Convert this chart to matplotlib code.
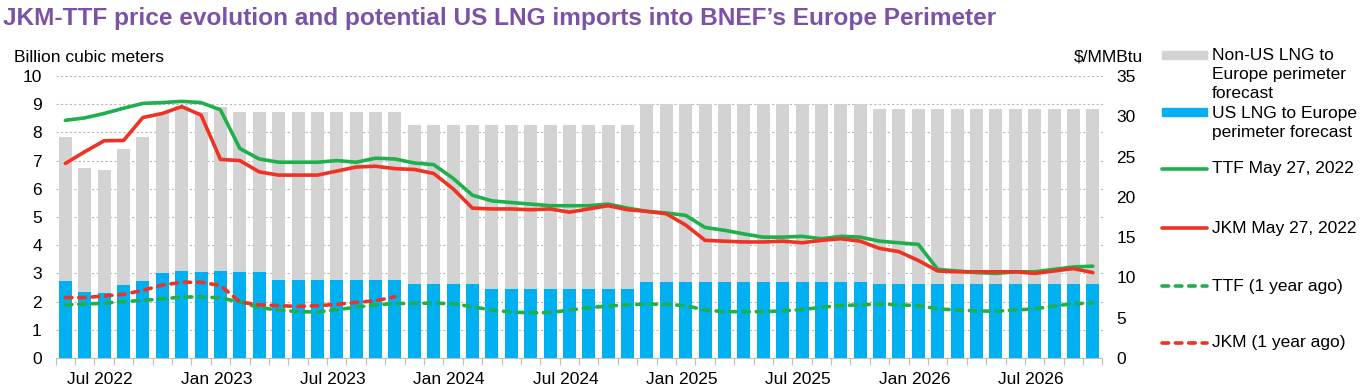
import matplotlib
matplotlib.use("Agg")
import matplotlib.pyplot as plt
from matplotlib.lines import Line2D
from matplotlib.patches import Rectangle
import numpy as np
import pandas as pd

# ---------------- data ----------------
months = pd.date_range("2022-05-01", periods=54, freq="MS")

us_lng = [2.73, 2.34, 2.30, 2.59, 2.73, 3.01, 3.08, 3.05, 3.08, 3.05, 3.05,
          2.77, 2.77, 2.77, 2.77, 2.77, 2.77, 2.77,
          2.62, 2.62, 2.62, 2.62,
          2.45, 2.45, 2.45, 2.45, 2.45, 2.45, 2.45, 2.45,
          2.70, 2.70, 2.70, 2.70, 2.70, 2.70, 2.70, 2.70, 2.70, 2.70, 2.70, 2.70,
          2.62, 2.62, 2.62, 2.62, 2.62, 2.62, 2.62, 2.62, 2.62, 2.62, 2.62, 2.62]

non_us_lng = [5.09, 4.41, 4.38, 4.82, 5.12, 5.69, 5.85, 5.67, 5.81, 5.67, 5.67,
              5.95, 5.95, 5.95, 5.95, 5.95, 5.95, 5.95,
              5.64, 5.64, 5.64, 5.64,
              5.81, 5.81, 5.81, 5.81, 5.81, 5.81, 5.81, 5.81,
              6.30, 6.30, 6.30, 6.30, 6.30, 6.30, 6.30, 6.30, 6.30, 6.30, 6.30, 6.30,
              6.21, 6.21, 6.21, 6.21, 6.21, 6.21, 6.21, 6.21, 6.21, 6.21, 6.21, 6.21]

ttf_now = [29.5, 29.8, 30.35, 31.0, 31.6, 31.7, 31.85, 31.7, 30.8, 26.0,
           24.7, 24.3, 24.3, 24.3, 24.5, 24.3, 24.8, 24.7, 24.2, 24.0,
           22.3, 20.2, 19.5, 19.3, 19.1, 18.9, 18.9, 18.9, 19.1, 18.6,
           18.2, 18.0, 17.7, 16.2, 15.85, 15.4, 15.0, 15.0, 15.1, 14.8,
           15.1, 15.0, 14.5, 14.3, 14.1, 11.0, 10.8, 10.6, 10.5, 10.7,
           10.7, 11.0, 11.3, 11.4]

jkm_now = [24.15, 25.6, 26.96, 27.0, 29.85, 30.35, 31.2, 30.15, 24.65, 24.5,
           23.1, 22.7, 22.7, 22.7, 23.2, 23.7, 23.8, 23.5, 23.4, 22.9,
           21.0, 18.6, 18.5, 18.5, 18.4, 18.5, 18.1, 18.5, 18.9, 18.4,
           18.2, 17.9, 16.5, 14.6, 14.5, 14.4, 14.4, 14.5, 14.3, 14.6,
           14.8, 14.5, 13.6, 13.2, 12.1, 10.8, 10.7, 10.7, 10.7, 10.7,
           10.5, 10.8, 11.1, 10.6]

ttf_year_ago = [6.6, 6.7, 6.8, 7.0, 7.15, 7.35, 7.55, 7.6, 7.45, 6.95,
                6.25, 5.95, 5.75, 5.7, 6.0, 6.3, 6.6, 6.75, 6.8, 6.8,
                6.75, 6.35, 5.95, 5.7, 5.6, 5.65, 5.95, 6.25, 6.45, 6.6,
                6.7, 6.65, 6.5, 5.95, 5.75, 5.75, 5.75, 5.85, 6.0, 6.3,
                6.5, 6.6, 6.7, 6.6, 6.5, 6.1, 5.95, 5.85, 5.8, 5.95,
                6.1, 6.45, 6.75, 6.8]

jkm_year_ago = [7.5, 7.5, 7.7, 7.9, 8.4, 9.05, 9.4, 9.4, 9.0, 6.95,
                6.6, 6.5, 6.4, 6.5, 6.65, 6.9, 7.1, 7.6]

labels = ["Non-US LNG to\nEurope perimeter\nforecast",
          "US LNG to Europe\nperimeter forecast",
          "TTF May 27, 2022", "JKM May 27, 2022",
          "TTF (1 year ago)", "JKM (1 year ago)"]

# ---------------- style ----------------
GREY = "#D3D3D3"
BLUE = "#00B0F0"
GREEN = "#1DB04B"
RED = "#EE3224"
PURPLE = "#7B52A6"
FONT = "Liberation Sans"
FS = 12.5

plt.rcParams["font.family"] = [FONT, "DejaVu Sans"]

W, H = 1361, 388
fig = plt.figure(figsize=(W / 100, H / 100), dpi=100)

def fx(px):
    return px / W

def fy(py):
    return 1 - py / H

ax_left, ax_right, ax_top, ax_bot = 55.7, 1102.5, 76, 358
ax = fig.add_axes([fx(ax_left), fy(ax_bot), fx(ax_right - ax_left), (ax_bot - ax_top) / H])

x = np.arange(len(months))
ax.bar(x, us_lng, width=0.67, color=BLUE, zorder=2)
ax.bar(x, non_us_lng, width=0.67, bottom=us_lng, color=GREY, zorder=2)

ax.set_xlim(-0.5, len(months) - 0.5)
ax.set_ylim(0, 10)
ax.set_yticks(np.arange(0, 11, 1))
ax.yaxis.grid(True, color="#B8B8B8", linestyle=(0, (2, 2)), linewidth=0.8, zorder=0)
ax.set_axisbelow(True)
for s in ["top", "right", "left"]:
    ax.spines[s].set_visible(False)
ax.spines["bottom"].set_color("#BFBFBF")
ax.tick_params(axis="y", length=0, pad=10, labelsize=FS)

# x ticks: minor at category boundaries, labels every Jan/Jul
ax.set_xticks(np.arange(-0.5, len(months), 1), minor=True)
lab_idx = [i for i, m in enumerate(months) if m.month in (1, 7)]
ax.set_xticks([i - 0.2 for i in lab_idx])
ax.set_xticklabels([months[i].strftime("%b %Y") for i in lab_idx], fontsize=FS)
ax.tick_params(axis="x", which="major", length=0, pad=10)
ax.tick_params(axis="x", which="minor", length=5, color="#BFBFBF", width=0.8)

ax2 = ax.twinx()
ax2.set_ylim(0, 35)
ax2.set_yticks(np.arange(0, 36, 5))
for s in ax2.spines.values():
    s.set_visible(False)
ax2.tick_params(axis="y", length=0, pad=10, labelsize=FS)

LW = 2.6
DASH = (0, (1.8, 1.9))
ax2.plot(x, ttf_now, color=GREEN, lw=LW, solid_capstyle="round", zorder=5)
ax2.plot(x, jkm_now, color=RED, lw=LW, solid_capstyle="round", zorder=5)
ax2.plot(x, ttf_year_ago, color=GREEN, lw=LW, linestyle=DASH, dash_capstyle="round", zorder=5)
ax2.plot(x[:len(jkm_year_ago)], jkm_year_ago, color=RED, lw=LW, linestyle=DASH,
         dash_capstyle="round", zorder=5)

# ---------------- texts ----------------
fig.text(fx(3), fy(18), "JKM-TTF price evolution and potential US LNG imports into BNEF\u2019s Europe Perimeter",
         fontsize=17.6, fontweight="bold", color=PURPLE, va="center", ha="left")
fig.text(fx(14), fy(57), "Billion cubic meters", fontsize=FS, va="center", ha="left")
fig.text(fx(1143), fy(57), "$/MMBtu", fontsize=FS, va="center", ha="right")

# ---------------- legend ----------------
lx0, lx1, tx = 1162, 1207, 1212
fig.add_artist(Rectangle((fx(lx0), fy(59)), fx(lx1 - lx0), 8 / H, transform=fig.transFigure,
                         color=GREY))
for i, line in enumerate(labels[0].split("\n")):
    fig.text(fx(tx), fy(55 + 19 * i), line, fontsize=FS, va="center", ha="left")
fig.add_artist(Rectangle((fx(lx0), fy(116)), fx(lx1 - lx0), 8 / H, transform=fig.transFigure,
                         color=BLUE))
for i, line in enumerate(labels[1].split("\n")):
    fig.text(fx(tx), fy(113 + 19 * i), line, fontsize=FS, va="center", ha="left")

entries = [(labels[2], GREEN, "-", 169), (labels[3], RED, "-", 228),
           (labels[4], GREEN, DASH, 286), (labels[5], RED, DASH, 343)]
for lab, col, ls, yy in entries:
    fig.add_artist(Line2D([fx(lx0), fx(lx1)], [fy(yy), fy(yy)], transform=fig.transFigure,
                          color=col, lw=LW, linestyle=ls, dash_capstyle="round",
                          solid_capstyle="round"))
    fig.text(fx(tx), fy(yy), lab, fontsize=FS, va="center", ha="left")

fig.savefig("out.png", dpi=100)
